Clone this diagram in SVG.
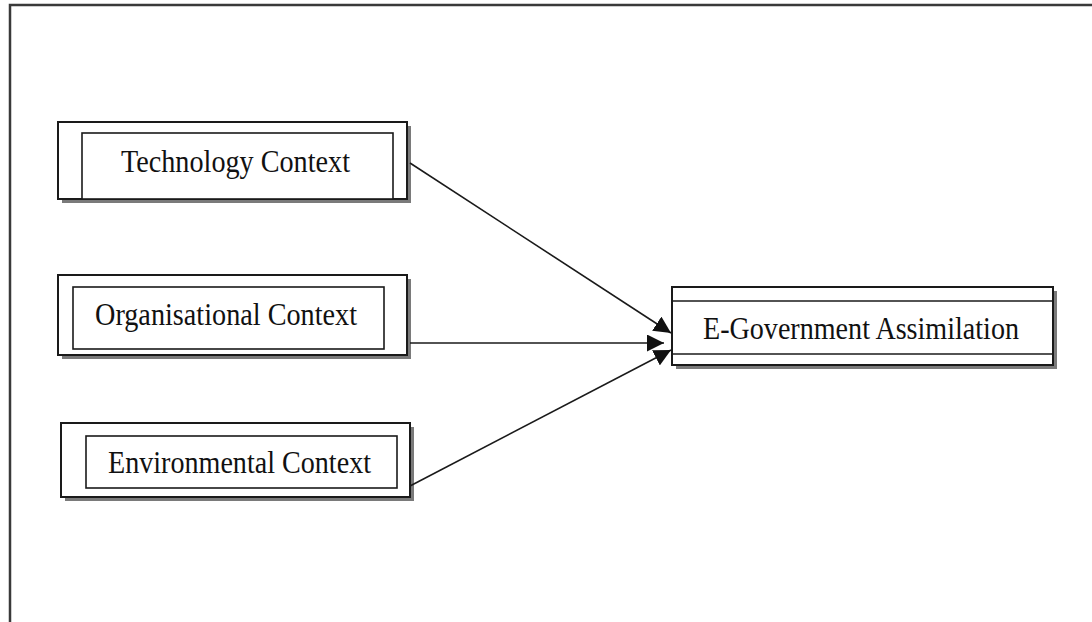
<svg xmlns="http://www.w3.org/2000/svg" width="1092" height="622" viewBox="0 0 1092 622">
<style>
.sh{fill:#7a7a7a;stroke:none}
.box{fill:#fff;stroke:#1a1a1a;stroke-width:2}
.in{fill:#fff;stroke:#1a1a1a;stroke-width:1.6}
.t{font-family:"Liberation Serif","Times New Roman",serif;font-size:31px;fill:#111}
.c{stroke:#1a1a1a;stroke-width:1.6;fill:none}
</style>
<defs>
<marker id="ah" viewBox="0 0 10 10" refX="10" refY="5" markerWidth="17" markerHeight="17" markerUnits="userSpaceOnUse" orient="auto">
<path d="M0,0 L10,5 L0,10 z" fill="#111"/>
</marker>
</defs>
<rect width="1092" height="622" fill="#fff"/>
<g id="frame">
<path d="M10,622 L10,5 L1092,5" fill="none" stroke="#3a3a3a" stroke-width="2.5"/>
</g>
<g id="technology">
<rect class="sh" x="62" y="126" width="349" height="77"/>
<rect class="box" x="58" y="122" width="349" height="77"/>
<rect class="in" x="82" y="133" width="311" height="66"/>
<text class="t" x="121" y="172" textLength="229" lengthAdjust="spacingAndGlyphs">Technology Context</text>
</g>
<g id="organisational">
<rect class="sh" x="62" y="279" width="349" height="80"/>
<rect class="box" x="58" y="275" width="349" height="80"/>
<rect class="in" x="73" y="287" width="311" height="62"/>
<text class="t" x="95" y="325" textLength="262" lengthAdjust="spacingAndGlyphs">Organisational Context</text>
</g>
<g id="environmental">
<rect class="sh" x="65" y="427" width="349" height="74"/>
<rect class="box" x="61" y="423" width="349" height="74"/>
<rect class="in" x="86" y="436" width="311" height="52"/>
<text class="t" x="108" y="473" textLength="263" lengthAdjust="spacingAndGlyphs">Environmental Context</text>
</g>
<g id="egov">
<rect class="sh" x="676" y="291" width="381" height="78"/>
<rect class="box" x="672" y="287" width="381" height="78"/>
<line class="c" x1="672" y1="301" x2="1053" y2="301"/>
<line class="c" x1="672" y1="354" x2="1053" y2="354"/>
<text class="t" x="703" y="339" textLength="316" lengthAdjust="spacingAndGlyphs">E-Government Assimilation</text>
</g>
<g id="connectors">
<line class="c" x1="410" y1="163" x2="671" y2="333" marker-end="url(#ah)"/>
<line class="c" x1="410" y1="343" x2="664" y2="343" marker-end="url(#ah)"/>
<line class="c" x1="410" y1="486" x2="671" y2="350" marker-end="url(#ah)"/>
</g>
</svg>
